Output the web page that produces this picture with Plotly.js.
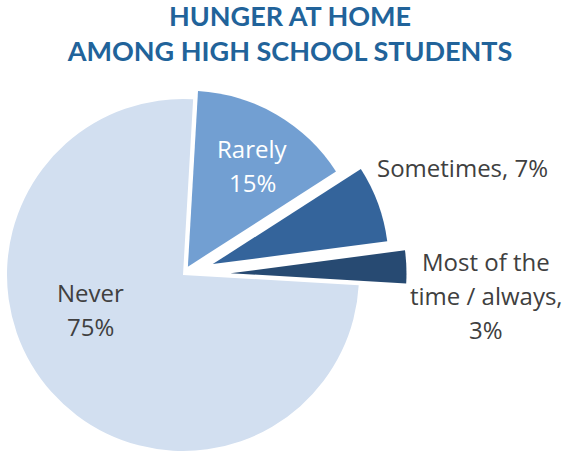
<!DOCTYPE html>
<html>
<head>
<meta charset="utf-8">
<script src="https://cdn.plot.ly/plotly-3.0.1.min.js"></script>
<style>
  html, body { margin: 0; padding: 0; width: 568px; height: 451px; overflow: hidden; background: #ffffff; }
  #chart { position: absolute; left: -50px; top: 0; width: 618px; height: 520px; }
</style>
</head>
<body>
<div id="chart"></div>
<script>
// ---- data ----
const categories = ["Rarely", "Sometimes", "Most of the time / always", "Never"];
const values = [15, 7, 3, 75];
const displayNames = ["Rarely", "Sometimes", "Most of the<br>time / always", "Never"];
const separators = ["<br>", ", ", ",<br>", "<br>"];
const chartTitle = "HUNGER AT HOME<br>AMONG HIGH SCHOOL STUDENTS";

// ---- styles / geometry ----
const sliceColors = ["#729FD2", "#34649B", "#274A72", "#D2DFF0"];
const pulls = [0.055, 0.18, 0.27, 0];
const labelColors = ["#FFFFFF", "#404040", "#404040", "#404040"];
// label anchor: centre x and first baseline (page px)
const labelPos = [[252, 158], [462.5, 177], [486, 271], [90.5, 302]];
const LINE_GAP = 34;
const FONT_SIZE = 24;

const W = 618, H = 520, OFF_X = 50;
const px = x => (x + OFF_X) / W;
const py = y => 1 - y / H;

const CX = 183, CY = 275, R = 176;
const maxPull = Math.max(...pulls);
const half = R * (1 + maxPull);

const labelText = categories.map((c, i) => displayNames[i] + separators[i] + values[i] + "%");

const annotations = [];
labelText.forEach((t, i) => {
  t.split("<br>").forEach((line, k) => {
    const baseline = labelPos[i][1] + k * LINE_GAP;
    annotations.push({
      text: line,
      xref: "paper", yref: "paper",
      x: px(labelPos[i][0]),
      y: py(baseline - 0.388 * FONT_SIZE),
      xanchor: "center", yanchor: "middle",
      showarrow: false,
      font: { family: "Open Sans", size: FONT_SIZE, color: labelColors[i] }
    });
  });
});

const trace = {
  type: "pie",
  labels: categories,
  values: values,
  sort: false,
  direction: "clockwise",
  rotation: 3.3,
  pull: pulls,
  marker: { colors: sliceColors, line: { width: 0 } },
  textinfo: "none",
  hoverinfo: "none",
  showlegend: false,
  domain: { x: [px(CX - half), px(CX + half)], y: [py(CY + half), py(CY - half)] }
};

const layout = {
  width: W, height: H,
  margin: { l: 0, r: 0, t: 0, b: 0 },
  paper_bgcolor: "#ffffff",
  title: {
    text: chartTitle,
    font: { family: "Lato", size: 27, color: "#21639A", weight: "bold" },
    xref: "container", yref: "container",
    x: px(290), xanchor: "center",
    y: py(26.3), yanchor: "top"
  },
  annotations: annotations,
  showlegend: false
};

Plotly.newPlot("chart", [trace], layout, { displayModeBar: false, staticPlot: true });
</script>
</body>
</html>
